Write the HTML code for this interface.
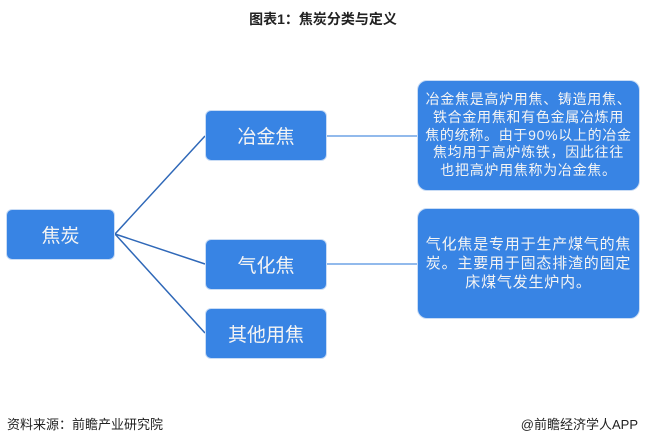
<!DOCTYPE html>
<html><head><meta charset="utf-8"><style>
body{margin:0;width:646px;height:443px;background:#fff;position:relative;overflow:hidden;font-family:"Liberation Sans","Noto Sans CJK SC",sans-serif}
.b{position:absolute;background:#3884e4;border:1px solid #c9dcf5;border-radius:6px;color:#f4f4f4;display:flex;align-items:center;justify-content:center;text-align:center;box-sizing:border-box}
.n{font-size:19px}
.t{white-space:nowrap;border-radius:10px}
</style></head><body>
<div style="position:absolute;top:9px;left:0;width:646px;text-align:center;font-size:14px;font-weight:bold;color:#222">图表1：焦炭分类与定义</div>
<svg width="646" height="443" style="position:absolute;left:0;top:0">
<g stroke="#2f68b8" stroke-width="1.5" fill="none">
<line x1="115" y1="234" x2="205" y2="136"/>
<line x1="115" y1="234" x2="205" y2="264"/>
<line x1="115" y1="234" x2="205" y2="333"/>
</g>
<g stroke="#6fa3e6" stroke-width="1.5">
<line x1="327" y1="136" x2="418" y2="136"/>
<line x1="327" y1="264" x2="418" y2="264"/>
</g>
</svg>
<div class="b n" style="left:6px;top:209px;width:109px;height:51px">焦炭</div>
<div class="b n" style="left:205px;top:110px;width:122px;height:51px">冶金焦</div>
<div class="b n" style="left:205px;top:239px;width:122px;height:51px">气化焦</div>
<div class="b n" style="left:205px;top:308px;width:122px;height:51px">其他用焦</div>
<div class="b t" style="left:417px;top:80px;width:223px;height:111px;font-size:14px;letter-spacing:0.7px;line-height:17.7px"><div>冶金焦是高炉用焦、铸造用焦、<br>铁合金用焦和有色金属冶炼用<br>焦的统称。由于90%以上的冶金<br>焦均用于高炉炼铁，因此往往<br>也把高炉用焦称为冶金焦。</div></div>
<div class="b t" style="left:417px;top:208px;width:223px;height:111px;font-size:15px;letter-spacing:0.8px;line-height:19px"><div>气化焦是专用于生产煤气的焦<br>炭。主要用于固态排渣的固定<br>床煤气发生炉内。</div></div>
<div style="position:absolute;left:7px;top:414px;font-size:13px;color:#222">资料来源：前瞻产业研究院</div>
<div style="position:absolute;right:8px;top:414px;font-size:13px;color:#222">@前瞻经济学人APP</div>
</body></html>
